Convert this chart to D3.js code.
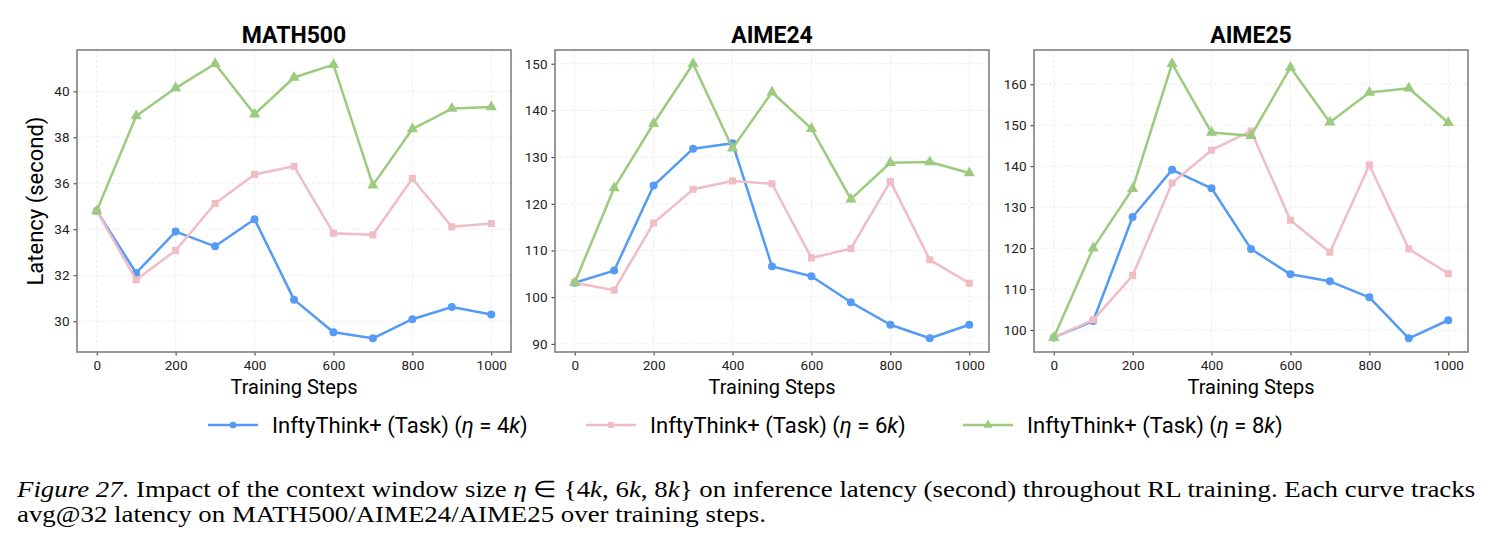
<!DOCTYPE html>
<html>
  <head>
    <title>Latency vs training steps</title>
    <style>
      body { margin: 0; background: #fff; }
      text { font-family: Roboto, "Noto Sans", sans-serif; }
      .caption text { font-family: "Liberation Serif", "Times New Roman", Times, serif; }
    </style>
  </head>
  <body>
    <svg width="1491" height="550"></svg>

    <script src="https://cdn.jsdelivr.net/npm/d3@7"></script>
    <script>

      var steps = [0, 100, 200, 300, 400, 500, 600, 700, 800, 900, 1000];
      var xTicks = [0, 200, 400, 600, 800, 1000];

      var panels = ["MATH500", "AIME24", "AIME25"];
      var seriesNames = ["4k", "6k", "8k"];

      // latency (second), one array per series per benchmark
      var math500_4k = [34.8, 32.1, 33.9, 33.26, 34.44, 30.94, 29.52, 29.26, 30.09, 30.62, 30.29];
      var math500_6k = [34.8, 31.8, 33.08, 35.12, 36.38, 36.74, 33.83, 33.76, 36.21, 34.11, 34.25];
      var math500_8k = [34.8, 38.93, 40.14, 41.2, 39.0, 40.6, 41.16, 35.92, 38.36, 39.25, 39.32];

      var aime24_4k = [103.1, 105.7, 123.9, 131.8, 132.95, 106.6, 104.5, 98.9, 94.1, 91.2, 94.1];
      var aime24_6k = [103.1, 101.5, 115.9, 123.1, 124.9, 124.3, 108.4, 110.4, 124.8, 108.0, 103.0];
      var aime24_8k = [103.1, 123.4, 137.2, 150.0, 131.9, 143.9, 136.1, 121.0, 128.8, 128.96, 126.6];

      var aime25_4k = [98.2, 102.2, 127.6, 139.1, 134.6, 119.8, 113.6, 111.9, 108.0, 98.0, 102.4];
      var aime25_6k = [98.2, 102.5, 113.3, 135.9, 143.9, 148.6, 126.8, 119.0, 140.3, 119.8, 113.8];
      var aime25_8k = [98.1, 120.0, 134.5, 165.0, 148.2, 147.4, 164.1, 150.7, 158.0, 159.0, 150.6];

      var yTicks = [
        [30, 32, 34, 36, 38, 40],
        [90, 100, 110, 120, 130, 140, 150],
        [100, 110, 120, 130, 140, 150, 160]
      ];

      var panelData = [
        [math500_4k, math500_6k, math500_8k],
        [aime24_4k, aime24_6k, aime24_8k],
        [aime25_4k, aime25_6k, aime25_8k]
      ];

      var colors = ["#549bf5", "#f0bdc4", "#9cca7e"];
      var markers = [d3.symbolCircle, d3.symbolSquare, d3.symbolTriangle];
      var markerSize = [50, 50, 55];

      var svg = d3.select("svg");

      var panelLeft = [77, 555, 1034],
        panelWidth = 434,
        plotTop = 50,
        plotBottom = 352;

      panels.forEach(function (name, p) {
        var lists = panelData[p];
        var all = d3.merge(lists);
        var lo = d3.min(all), hi = d3.max(all), pad = (hi - lo) * 0.05;

        var x = d3.scaleLinear()
          .domain([-50, 1050])
          .range([panelLeft[p], panelLeft[p] + panelWidth]);

        var y = d3.scaleLinear()
          .domain([lo - pad, hi + pad])
          .range([plotBottom, plotTop]);

        var g = svg.append("g");

        // grid
        g.append("g")
          .selectAll("line")
          .data(yTicks[p])
          .enter().append("line")
          .attr("x1", x.range()[0]).attr("x2", x.range()[1])
          .attr("y1", function (d) { return y(d); })
          .attr("y2", function (d) { return y(d); })
          .attr("stroke", "#e8e8e8").attr("stroke-width", 0.8)
          .attr("stroke-dasharray", "3,2");

        g.append("g")
          .selectAll("line")
          .data(xTicks)
          .enter().append("line")
          .attr("y1", plotTop).attr("y2", plotBottom)
          .attr("x1", function (d) { return x(d); })
          .attr("x2", function (d) { return x(d); })
          .attr("stroke", "#e8e8e8").attr("stroke-width", 0.8)
          .attr("stroke-dasharray", "3,2");

        // lines and markers
        lists.forEach(function (vals, s) {
          var line = d3.line()
            .x(function (d, i) { return x(steps[i]); })
            .y(function (d) { return y(d); });

          g.append("path")
            .datum(vals)
            .attr("d", line)
            .attr("fill", "none")
            .attr("stroke", colors[s])
            .attr("stroke-width", 2.5)
            .attr("stroke-linejoin", "round");

          g.append("g")
            .selectAll("path")
            .data(vals)
            .enter().append("path")
            .attr("d", d3.symbol().type(markers[s]).size(markerSize[s]))
            .attr("transform", function (d, i) {
              return "translate(" + x(steps[i]) + "," + y(d) + ")";
            })
            .attr("fill", colors[s]);
        });

        // axes
        var xAxis = g.append("g")
          .attr("transform", "translate(0," + plotBottom + ")")
          .call(d3.axisBottom(x).tickValues(xTicks).tickFormat(d3.format("d"))
            .tickSize(3.5).tickPadding(5));

        var yAxis = g.append("g")
          .attr("transform", "translate(" + panelLeft[p] + ",0)")
          .call(d3.axisLeft(y).tickValues(yTicks[p]).tickFormat(d3.format("d"))
            .tickSize(3.5).tickPadding(4));

        [xAxis, yAxis].forEach(function (a) {
          a.select(".domain").remove();
          a.selectAll("line").attr("stroke", "#333");
          a.selectAll("text").attr("font-size", 13.5).attr("fill", "#222")
            .attr("font-family", "Roboto, sans-serif");
        });

        g.append("rect")
          .attr("x", panelLeft[p]).attr("y", plotTop)
          .attr("width", panelWidth).attr("height", plotBottom - plotTop)
          .attr("fill", "none").attr("stroke", "#808080").attr("stroke-width", 1.6);

        g.append("text")
          .attr("x", panelLeft[p] + panelWidth / 2).attr("y", 43)
          .attr("text-anchor", "middle")
          .attr("font-size", 23).attr("font-weight", "bold")
          .text(name);

        g.append("text")
          .attr("x", panelLeft[p] + panelWidth / 2).attr("y", 394)
          .attr("text-anchor", "middle")
          .attr("font-size", 20)
          .text("Training Steps");
      });

      svg.append("text")
        .attr("transform", "translate(43," + (plotTop + plotBottom) / 2 + ") rotate(-90)")
        .attr("text-anchor", "middle")
        .attr("font-size", 22)
        .text("Latency (second)");

      // legend
      var legendX = [208, 586, 963];
      var legend = svg.append("g");
      seriesNames.forEach(function (nm, s) {
        var lg = legend.append("g").attr("transform", "translate(" + legendX[s] + ",425)");
        lg.append("line").attr("x1", 0).attr("x2", 50)
          .attr("stroke", colors[s]).attr("stroke-width", 2.5);
        lg.append("path")
          .attr("d", d3.symbol().type(markers[s]).size(markerSize[s] * 0.7))
          .attr("transform", "translate(25,0)")
          .attr("fill", colors[s]);
        var t = lg.append("text").attr("x", 64).attr("y", 8).attr("font-size", 22);
        t.append("tspan").text("InftyThink+ (Task) (");
        t.append("tspan").attr("font-style", "italic").text("η");
        t.append("tspan").text(" = " + nm.slice(0, 1));
        t.append("tspan").attr("font-style", "italic").text("k");
        t.append("tspan").text(")");
      });

      // caption
      var cap = svg.append("g").attr("class", "caption");
      var l1 = cap.append("text").attr("x", 0).attr("y", 497).attr("font-size", 23);
      l1.append("tspan").attr("font-style", "italic").text("Figure 27.");
      l1.append("tspan").text(" Impact of the context window size ");
      l1.append("tspan").attr("font-style", "italic").text("η");
      l1.append("tspan").text(" ∈ {4");
      l1.append("tspan").attr("font-style", "italic").text("k");
      l1.append("tspan").text(", 6");
      l1.append("tspan").attr("font-style", "italic").text("k");
      l1.append("tspan").text(", 8");
      l1.append("tspan").attr("font-style", "italic").text("k");
      l1.append("tspan").text("} on inference latency (second) throughout RL training. Each curve tracks");

      cap.append("text").attr("x", 0).attr("y", 522).attr("font-size", 23)
        .text("avg@32 latency on MATH500/AIME24/AIME25 over training steps.");

      // stretch caption so line 1 spans the same width as in the figure
      var w1 = l1.node().getComputedTextLength();
      cap.attr("transform", "translate(17,0) scale(" + (1458 / w1) + ",1)");

    </script>
  </body>
</html>
